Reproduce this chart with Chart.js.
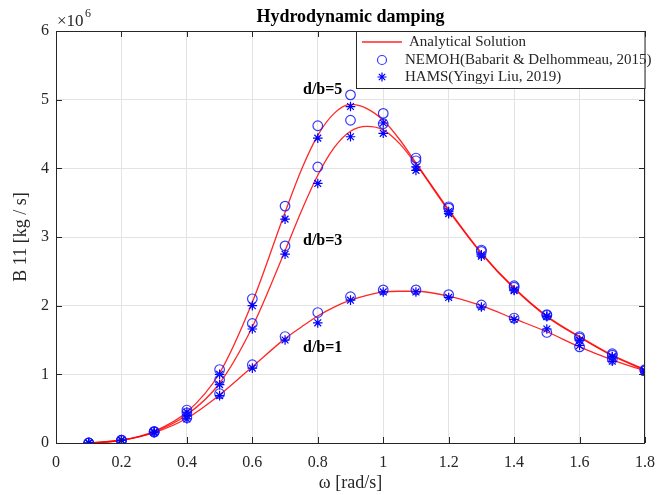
<!DOCTYPE html>
<html>
<head>
<meta charset="utf-8">
<script src="https://cdn.jsdelivr.net/npm/chart.js@4.4.1/dist/chart.umd.min.js"></script>
<style>
  html, body { margin: 0; padding: 0; background: #fff; }
  #wrap { width: 665px; height: 495px; }
</style>
</head>
<body>
<div id="wrap"><canvas id="dampChart" width="665" height="495"></canvas></div>
<script>
// omega values of the numerical results [rad/s]
const omegaPts = [0.1, 0.2, 0.3, 0.4, 0.5, 0.6, 0.7, 0.8, 0.9, 1.0, 1.1, 1.2, 1.3, 1.4, 1.5, 1.6, 1.7, 1.8];

// B11 in units of 1e6 kg/s
const nemohD5 = [0, 0.04, 0.17, 0.48, 1.07, 2.10, 3.45, 4.62, 5.07, 4.80, 4.15, 3.44, 2.81, 2.29, 1.87, 1.55, 1.30, 1.07];
const hamsD5  = [0, 0.04, 0.16, 0.45, 1.00, 2.00, 3.26, 4.44, 4.90, 4.66, 4.02, 3.37, 2.74, 2.23, 1.85, 1.50, 1.26, 1.05];
const nemohD3 = [0, 0.04, 0.16, 0.44, 0.92, 1.74, 2.87, 4.02, 4.70, 4.65, 4.11, 3.42, 2.79, 2.27, 1.86, 1.53, 1.28, 1.06];
const hamsD3  = [0, 0.04, 0.16, 0.40, 0.85, 1.66, 2.75, 3.78, 4.46, 4.51, 3.97, 3.34, 2.72, 2.22, 1.84, 1.49, 1.25, 1.04];
const nemohD1 = [0, 0.04, 0.16, 0.37, 0.72, 1.14, 1.55, 1.90, 2.13, 2.23, 2.23, 2.16, 2.01, 1.82, 1.61, 1.40, 1.22, 1.05];
const hamsD1  = [0, 0.04, 0.15, 0.35, 0.69, 1.09, 1.50, 1.75, 2.08, 2.20, 2.20, 2.12, 1.98, 1.80, 1.66, 1.42, 1.19, 1.03];

// analytical curves, read on a finer omega grid
const omegaFine = [0.1, 0.2, 0.3, 0.4, 0.5, 0.6, 0.7, 0.75, 0.8, 0.85, 0.9, 0.95, 1.0, 1.05, 1.1, 1.2, 1.3, 1.4, 1.5, 1.6, 1.7, 1.8];
const analD5 = [0, 0.04, 0.17, 0.45, 1.02, 2.05, 3.36, 3.98, 4.48, 4.80, 4.93, 4.87, 4.70, 4.42, 4.08, 3.40, 2.77, 2.26, 1.85, 1.55, 1.28, 1.07];
const analD3 = [0, 0.04, 0.16, 0.41, 0.87, 1.69, 2.80, 3.38, 3.90, 4.30, 4.54, 4.61, 4.56, 4.36, 4.06, 3.38, 2.76, 2.25, 1.84, 1.54, 1.27, 1.06];
const analD1 = [0, 0.04, 0.15, 0.36, 0.70, 1.11, 1.52, 1.69, 1.85, 1.98, 2.08, 2.15, 2.20, 2.21, 2.21, 2.14, 2.00, 1.81, 1.62, 1.40, 1.21, 1.05];

const curveLabels = [
  { text: 'd/b=5', x: 0.815, y: 5.14 },
  { text: 'd/b=3', x: 0.815, y: 2.94 },
  { text: 'd/b=1', x: 0.815, y: 1.38 }
];

const serif = '"Liberation Serif", "DejaVu Serif", serif';
const axisColor = '#262626';
const blue = 'rgba(20, 20, 255, 0.85)';
const red = 'rgba(255, 0, 0, 0.85)';

function pts(xs, ys) {
  return xs.map((x, i) => ({ x: x, y: ys[i] }));
}

function circles(ys) {
  return {
    data: pts(omegaPts, ys),
    showLine: false,
    pointStyle: 'circle',
    pointRadius: 4.8,
    pointBorderWidth: 1.2,
    pointBorderColor: blue,
    pointBackgroundColor: 'rgba(0,0,0,0)'
  };
}

function stars(ys) {
  return {
    data: pts(omegaPts, ys),
    showLine: false,
    pointStyle: 'star',
    pointRadius: 4.8,
    pointBorderWidth: 1.2,
    pointBorderColor: 'rgb(0, 0, 255)',
    pointBackgroundColor: 'rgb(0, 0, 255)'
  };
}

function curve(ys) {
  return {
    data: pts(omegaFine, ys),
    showLine: true,
    borderColor: red,
    borderWidth: 1.3,
    pointRadius: 0,
    cubicInterpolationMode: 'monotone'
  };
}

function drawStar(ctx, x, y, r) {
  ctx.beginPath();
  ctx.moveTo(x - r, y); ctx.lineTo(x + r, y);
  ctx.moveTo(x, y - r); ctx.lineTo(x, y + r);
  const d = r * 0.7071;
  ctx.moveTo(x - d, y - d); ctx.lineTo(x + d, y + d);
  ctx.moveTo(x - d, y + d); ctx.lineTo(x + d, y - d);
  ctx.stroke();
}

// titles, legend, labels and axis box
const overlay = {
  id: 'overlay',
  afterDraw(chart) {
    const ctx = chart.ctx;
    const a = chart.chartArea;
    const xs = chart.scales.x, ys = chart.scales.y;
    ctx.save();

    // box
    ctx.strokeStyle = axisColor;
    ctx.lineWidth = 1;
    ctx.strokeRect(a.left + 0.5, a.top + 0.5, a.right - a.left - 1, a.bottom - a.top);

    // tick marks inside
    ctx.beginPath();
    for (let v = 0; v <= 1.8001; v += 0.2) {
      const px = Math.round(xs.getPixelForValue(v)) + 0.5;
      ctx.moveTo(px, a.bottom); ctx.lineTo(px, a.bottom - 6);
      ctx.moveTo(px, a.top); ctx.lineTo(px, a.top + 6);
    }
    for (let v = 0; v <= 6; v++) {
      const py = Math.round(ys.getPixelForValue(v)) + 0.5;
      ctx.moveTo(a.left, py); ctx.lineTo(a.left + 6, py);
      ctx.moveTo(a.right, py); ctx.lineTo(a.right - 6, py);
    }
    ctx.stroke();

    // title
    ctx.fillStyle = '#000';
    ctx.textAlign = 'center';
    ctx.textBaseline = 'middle';
    ctx.font = 'bold 18px ' + serif;
    ctx.fillText('Hydrodynamic damping', (a.left + a.right) / 2, 17);

    // axis titles
    ctx.fillStyle = axisColor;
    ctx.font = '18px ' + serif;
    ctx.fillText('\u03c9 [rad/s]', (a.left + a.right) / 2, 483);
    ctx.save();
    ctx.translate(21, 237);
    ctx.rotate(-Math.PI / 2);
    ctx.fillText('B 11 [kg / s]', 0, 0);
    ctx.restore();

    // exponent
    ctx.textAlign = 'left';
    ctx.font = '17px ' + serif;
    ctx.fillText('\u00d710', 57, 22);
    ctx.font = '12px ' + serif;
    ctx.fillText('6', 85, 14);

    // curve labels
    ctx.fillStyle = '#000';
    ctx.textAlign = 'center';
    ctx.font = 'bold 16px ' + serif;
    curveLabels.forEach(l => {
      ctx.fillText(l.text, xs.getPixelForValue(l.x), ys.getPixelForValue(l.y));
    });

    // legend
    const lx = 356, ly = a.top + 0.5, lw = a.right - 356, lh = 57;
    ctx.fillStyle = '#fff';
    ctx.fillRect(lx, ly, lw, lh);
    ctx.strokeStyle = axisColor;
    ctx.lineWidth = 1;
    ctx.strokeRect(lx + 0.5, ly, lw - 0.5, lh);

    ctx.strokeStyle = red;
    ctx.lineWidth = 1.3;
    ctx.beginPath();
    ctx.moveTo(362, 42); ctx.lineTo(402, 42);
    ctx.stroke();

    ctx.strokeStyle = blue;
    ctx.lineWidth = 1.2;
    ctx.beginPath();
    ctx.arc(382, 60, 4.5, 0, Math.PI * 2);
    ctx.stroke();

    ctx.strokeStyle = 'rgb(0,0,255)';
    drawStar(ctx, 382, 77, 4.5);

    ctx.fillStyle = axisColor;
    ctx.textAlign = 'left';
    ctx.font = '15px ' + serif;
    ctx.fillText('Analytical Solution', 409, 42);
    ctx.fillText('NEMOH(Babarit & Delhommeau, 2015)', 405, 60);
    ctx.fillText('HAMS(Yingyi Liu, 2019)', 405, 77);

    ctx.restore();
  }
};

const dampChart = new Chart(document.getElementById('dampChart').getContext('2d'), {
  type: 'scatter',
  data: {
    datasets: [
      circles(nemohD5), circles(nemohD3), circles(nemohD1),
      stars(hamsD5), stars(hamsD3), stars(hamsD1),
      curve(analD5), curve(analD3), curve(analD1)
    ]
  },
  options: {
    responsive: false,
    animation: false,
    layout: { padding: { top: 31, right: 11, left: 0, bottom: 0 } },
    plugins: {
      legend: { display: false },
      tooltip: { enabled: false }
    },
    scales: {
      x: {
        type: 'linear',
        min: 0,
        max: 1.8,
        afterFit: s => { s.height = 52; },
        border: { display: false },
        grid: { color: '#e3e3e3', drawTicks: false },
        ticks: {
          stepSize: 0.2,
          padding: 10,
          color: axisColor,
          font: { family: serif, size: 16 },
          callback: v => String(Number(v.toFixed(1)))
        }
      },
      y: {
        type: 'linear',
        min: 0,
        max: 6,
        afterFit: s => { s.width = 56; },
        border: { display: false },
        grid: { color: '#e3e3e3', drawTicks: false },
        ticks: {
          stepSize: 1,
          padding: 7,
          color: axisColor,
          font: { family: serif, size: 16 }
        }
      }
    }
  },
  plugins: [overlay]
});
</script>
</body>
</html>
